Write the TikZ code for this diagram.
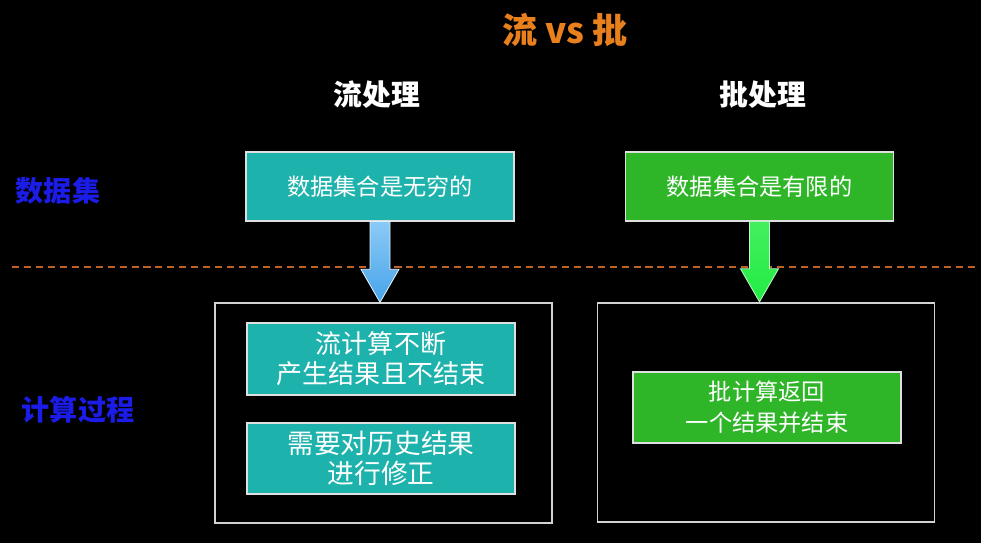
\documentclass[tikz,border=0pt]{standalone}
\usepackage{fontspec}
\setmainfont{Noto Sans CJK SC}
\usetikzlibrary{calc}
\definecolor{titleorange}{RGB}{232,128,30}
\definecolor{rowblue}{RGB}{28,28,232}
\definecolor{streamteal}{RGB}{30,178,172}
\definecolor{batchgreen}{RGB}{46,182,40}
\definecolor{lineorange}{RGB}{190,98,40}
\definecolor{arrowtop}{RGB}{140,202,246}
\definecolor{arrowbottom}{RGB}{70,164,234}
\definecolor{arrowgreen}{RGB}{34,236,66}

% fat block arrow from the bottom of #1 down to the top of #2
\newcommand{\fatarrow}[3]{%
  \draw[#3] ($(#1.south)+(-10,0)$) -- ($(#1.south|-#2.north)+(-10,-33)$) -- ++(-9,0)
    -- (#1.south|-#2.north) -- ++(19,-33) -- ++(-9,0) -- ($(#1.south)+(10,0)$) -- cycle;}

\begin{document}
\begin{tikzpicture}[x=0.025cm, y=-0.025cm,
  box/.style={rectangle, draw=white!75!gray, line width=0.8pt, text=white, minimum width=6.7cm, align=center},
  frame/.style={rectangle, draw=white!65!gray, line width=1.2pt, minimum width=8.43cm, minimum height=5.49cm},
  head/.style={text=white, font=\bfseries\fontsize{20.5}{24}\selectfont},
  rowlabel/.style={text=rowblue, font=\bfseries\fontsize{20}{24}\selectfont}]

  \fill[black] (0,0) rectangle (981,543);

  \node[text=titleorange, font=\bfseries\fontsize{25}{30}\selectfont] (title) at (565,30) {流 vs 批};
  \node[head] (h1) at (377,95) {流处理};
  \node[head] (h2) at (763,95) {批处理};
  \node[rowlabel] (lab1) at (58,191) {数据集};
  \node[rowlabel] (lab2) at (78,410) {计算过程};

  % separator
  \coordinate (sepl) at (12,267);
  \coordinate (sepr) at (975,267);
  \draw[lineorange, line width=1.6pt, dash pattern=on 5pt off 3.5pt] (sepl) -- (sepr);

  \node[box, fill=streamteal, minimum height=1.725cm, font=\fontsize{16.5}{20}\selectfont] (d1) at (380,186.5) {数据集合是无穷的};
  \node[box, fill=batchgreen, minimum height=1.725cm, font=\fontsize{16.5}{20}\selectfont] (d2) at (759.5,186.5) {数据集合是有限的};

  \node[frame] (f1) at (383.5,413) {};
  \node[frame] (f2) at (766,412.5) {};

  \node[box, fill=streamteal, minimum height=1.8cm, font=\fontsize{18.5}{21.5}\selectfont] (c1) at (381,359) {流计算不断\\产生结果且不结束};
  \node[box, fill=streamteal, minimum height=1.775cm, font=\fontsize{19}{21.5}\selectfont] (c2) at (381,458.5) {需要对历史结果\\进行修正};
  \node[box, fill=batchgreen, minimum height=1.775cm, font=\fontsize{16.5}{22}\selectfont] (g1) at (767,407.5) {批计算返回\\一个结果并结束};

  \fatarrow{d1}{f1}{draw=white!75!arrowtop, line width=0.6pt, top color=arrowtop, bottom color=arrowbottom}
  \fatarrow{d2}{f2}{draw=white!70!arrowgreen, line width=0.6pt, top color=arrowgreen!85!white, bottom color=arrowgreen}
\end{tikzpicture}
\end{document}
